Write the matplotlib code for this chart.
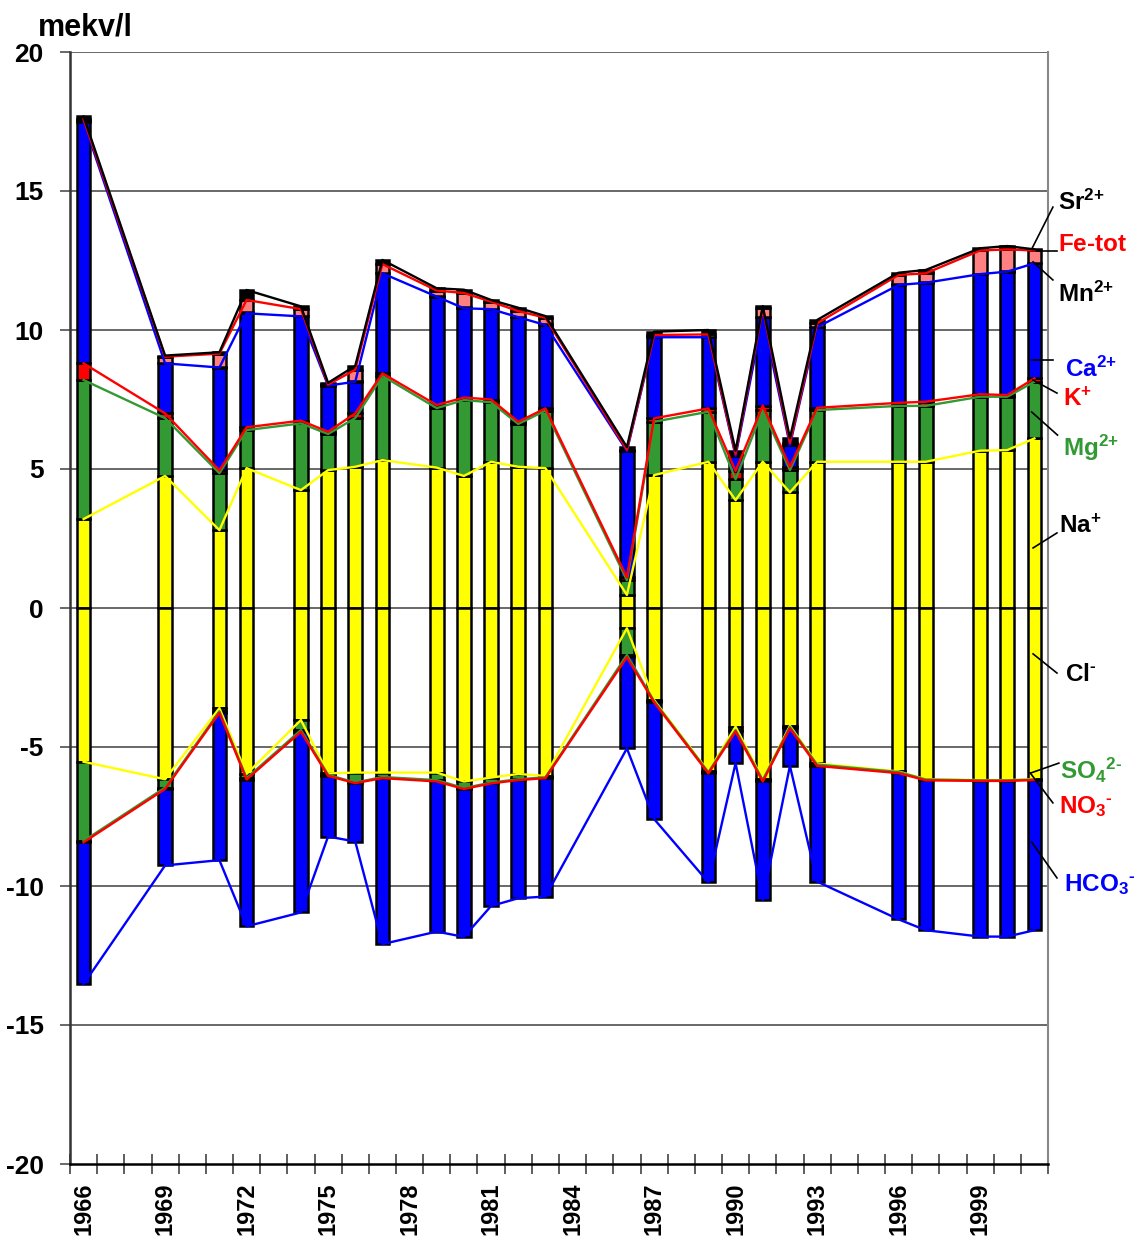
import matplotlib
matplotlib.use("Agg")
import matplotlib.pyplot as plt
from matplotlib import font_manager
import numpy as np

# years with a sample (bars)
years = [1966, 1969, 1971, 1972, 1974, 1975, 1976, 1977, 1979, 1980, 1981, 1982, 1983,
         1986, 1987, 1989, 1990, 1991, 1992, 1993, 1996, 1997, 1999, 2000, 2001]

# cations, mekv/l
na = [3.2, 4.75, 2.8, 5.03, 4.24, 4.96, 5.08, 5.32, 5.05, 4.75, 5.26, 5.08, 5.03,
      0.47, 4.78, 5.26, 3.88, 5.26, 4.16, 5.26, 5.26, 5.26, 5.66, 5.68, 6.1]
mg = [5.0, 2.08, 2.05, 1.37, 2.4, 1.3, 1.75, 3.03, 2.14, 2.73, 2.14, 1.54, 2.07,
      0.53, 1.92, 1.8, 0.75, 1.86, 0.8, 1.86, 2.01, 2.01, 1.94, 1.92, 2.04]
k = [0.6, 0.17, 0.1, 0.1, 0.1, 0.08, 0.17, 0.09, 0.11, 0.09, 0.1, 0.08, 0.08,
     0.1, 0.12, 0.12, 0.3, 0.16, 0.12, 0.08, 0.11, 0.15, 0.09, 0.06, 0.12]
ca = [8.7, 1.8, 3.7, 4.1, 3.75, 1.66, 1.14, 3.6, 3.9, 3.21, 3.25, 3.76, 3.0,
      4.55, 2.92, 2.56, 0.54, 3.18, 0.78, 2.9, 4.24, 4.28, 4.32, 4.44, 4.14]
mn = [0.03, 0.02, 0.03, 0.03, 0.02, 0.02, 0.03, 0.02, 0.02, 0.03, 0.02, 0.02, 0.02,
      0.02, 0.02, 0.02, 0.03, 0.02, 0.05, 0.02, 0.02, 0.02, 0.02, 0.02, 0.02]
fe = [0.05, 0.22, 0.47, 0.45, 0.24, 0.02, 0.4, 0.31, 0.2, 0.52, 0.25, 0.2, 0.24,
      0.02, 0.06, 0.08, 0.03, 0.3, 0.02, 0.12, 0.34, 0.32, 0.83, 0.78, 0.44]
sr = [0.1, 0.04, 0.05, 0.36, 0.1, 0.06, 0.14, 0.15, 0.08, 0.12, 0.06, 0.12, 0.06,
      0.1, 0.12, 0.16, 0.13, 0.08, 0.18, 0.12, 0.08, 0.12, 0.08, 0.12, 0.04]

# anions, mekv/l (drawn below zero)
cl = [5.53, 6.16, 3.6, 5.97, 4.03, 5.95, 5.92, 5.92, 5.92, 6.24, 6.1, 5.97, 6.04,
      0.73, 3.31, 5.88, 4.27, 6.16, 4.24, 5.59, 5.88, 6.16, 6.19, 6.19, 6.16]
so4 = [2.85, 0.3, 0.12, 0.15, 0.36, 0.05, 0.36, 0.16, 0.27, 0.24, 0.18, 0.19, 0.05,
       0.96, 0.04, 0.03, 0.12, 0.03, 0.04, 0.04, 0.02, 0.01, 0.01, 0.01, 0.01]
no3 = [0.05, 0.05, 0.05, 0.05, 0.06, 0.04, 0.02, 0.04, 0.05, 0.03, 0.03, 0.03, 0.03,
       0.08, 0.04, 0.04, 0.05, 0.05, 0.05, 0.05, 0.04, 0.03, 0.02, 0.02, 0.02]
hco3 = [5.1, 2.75, 5.3, 5.28, 6.5, 2.18, 2.1, 5.97, 5.4, 5.32, 4.41, 4.25, 4.26,
        3.28, 4.2, 3.92, 1.14, 4.26, 1.35, 4.16, 5.26, 5.39, 5.6, 5.6, 5.4]

first_year, last_year = 1966, 2001
label_years = list(range(1966, 2000, 3))

YEL, GRN, RED, BLU, PNK = "#FFFF00", "#339933", "#FF0000", "#0000FF", "#FF8080"

names = {f.name for f in font_manager.fontManager.ttflist}
narrow = "Liberation Sans Narrow" if "Liberation Sans Narrow" in names else "Liberation Sans"
plt.rcParams["font.family"] = ["Liberation Sans", "DejaVu Sans"]
plt.rcParams["mathtext.fontset"] = "custom"
plt.rcParams["mathtext.rm"] = narrow + ":bold"
plt.rcParams["mathtext.it"] = narrow + ":bold"
plt.rcParams["mathtext.bf"] = narrow + ":bold"

fig = plt.figure(figsize=(11.37, 12.43), dpi=100)
ax = fig.add_axes([70 / 1137, 1 - 1164 / 1243, 978 / 1137, 1112 / 1243])

x = np.array(years) - first_year
w = 0.5

# positive stack
pos = [(na, YEL), (mg, GRN), (k, RED), (ca, BLU), (mn, "black"), (fe, PNK), (sr, "black")]
bottom = np.zeros(len(years))
tops = []
for vals, col in pos:
    v = np.array(vals)
    ax.bar(x, v, w, bottom=bottom, color=col, edgecolor="black", linewidth=1.8, zorder=2)
    bottom = bottom + v
    tops.append(bottom.copy())

neg = [(cl, YEL), (so4, GRN), (no3, RED), (hco3, BLU)]
bottom = np.zeros(len(years))
lows = []
for vals, col in neg:
    v = np.array(vals)
    ax.bar(x, -v, w, bottom=bottom, color=col, edgecolor="black", linewidth=1.8, zorder=2)
    bottom = bottom - v
    lows.append(bottom.copy())

# connecting lines
lw = 1.7
ax.plot(x, tops[0], color=YEL, lw=lw, zorder=3)
ax.plot(x, tops[1], color=GRN, lw=lw, zorder=3)
ax.plot(x, tops[2], color=RED, lw=lw, zorder=3)
ax.plot(x, tops[3], color=BLU, lw=lw, zorder=3)
ax.plot(x, tops[5], color=RED, lw=lw, zorder=3)
ax.plot(x, tops[6], color="black", lw=lw, zorder=3)
ax.plot(x, lows[0], color=YEL, lw=lw, zorder=3)
ax.plot(x, lows[1], color=GRN, lw=lw, zorder=3)
ax.plot(x, lows[2], color=RED, lw=lw, zorder=3)
ax.plot(x, lows[3], color=BLU, lw=lw, zorder=3)

n = last_year - first_year + 1
ax.set_xlim(-0.5, n - 0.5)
ax.set_ylim(-20, 20)

for yv in range(-15, 25, 5):
    ax.axhline(yv, color="#404040", lw=1.1, zorder=0)

ax.spines["top"].set_visible(False)
ax.spines["left"].set_color("#333333")
ax.spines["left"].set_linewidth(1.8)
ax.spines["right"].set_color("#888888")
ax.spines["right"].set_linewidth(1.5)
ax.spines["bottom"].set_color("black")
ax.spines["bottom"].set_linewidth(1.8)

ax.set_yticks(range(-20, 25, 5))
ax.set_yticklabels([str(v) for v in range(-20, 25, 5)], fontfamily=narrow,
                   fontweight="bold", fontsize=19)
ax.tick_params(axis="y", direction="out", length=7, width=1.1, color="#404040", pad=12)

ax.set_xticks(np.arange(-0.5, n, 1.0))
ax.set_xticklabels([])
ax.tick_params(axis="x", which="major", direction="inout", length=15, width=1.1, color="#333333")
ax.set_xticks([yv - first_year for yv in label_years], minor=True)
ax.set_xticklabels([str(yv) for yv in label_years], minor=True, rotation=90,
                   fontweight="bold", fontsize=17, va="top")
ax.tick_params(axis="x", which="minor", length=0, pad=13)

fig.text(38 / 1137, 1 - 35 / 1243, "mekv/l", fontsize=22, fontweight="bold",
         va="baseline", ha="left")

# right-hand labels with pointer lines: text, colour, text pos, line start, line end
labels = [
    (r"$\mathrm{Sr}^{\text{2+}}$", "black", (35.85, 14.6), (34.9, 12.91), (35.68, 14.42)),
    (r"$\text{Fe-tot}$", RED, (35.85, 13.05), (35.2, 12.84), (35.83, 12.84)),
    (r"$\mathrm{Mn}^{\text{2+}}$", "black", (35.88, 11.3), (34.95, 12.45), (35.68, 11.8)),
    (r"$\mathrm{Ca}^{\text{2+}}$", BLU, (36.12, 8.6), (34.9, 8.92), (35.68, 8.92)),
    (r"$\mathrm{K}^{\text{+}}$", RED, (36.05, 7.5), (34.95, 8.2), (35.83, 7.73)),
    (r"$\mathrm{Mg}^{\text{2+}}$", GRN, (36.05, 5.75), (34.9, 7.05), (35.85, 6.22)),
    (r"$\mathrm{Na}^{\text{+}}$", "black", (35.9, 2.95), (34.95, 2.16), (35.83, 2.7)),
    (r"$\mathrm{Cl}^{\text{-}}$", "black", (36.12, -2.4), (34.95, -1.65), (35.83, -2.34)),
    (r"$\mathrm{SO}_4{}^{\text{2-}}$", GRN, (35.95, -5.85), (34.85, -5.94), (35.9, -5.58)),
    (r"$\mathrm{NO}_3{}^{\text{-}}$", RED, (35.9, -7.15), (34.85, -5.94), (35.68, -7.01)),
    (r"$\mathrm{HCO}_3{}^{\text{-}}$", BLU, (36.1, -9.95), (34.9, -8.42), (35.83, -9.71)),
]
for txt, col, tpos, p0, p1 in labels:
    ax.plot([p0[0], p1[0]], [p0[1], p1[1]], color="black", lw=1.2, clip_on=False, zorder=4)
    ax.text(tpos[0], tpos[1], txt, color=col, fontsize=17.5, ha="left", va="center",
            clip_on=False)

fig.savefig("out.png", dpi=100)
